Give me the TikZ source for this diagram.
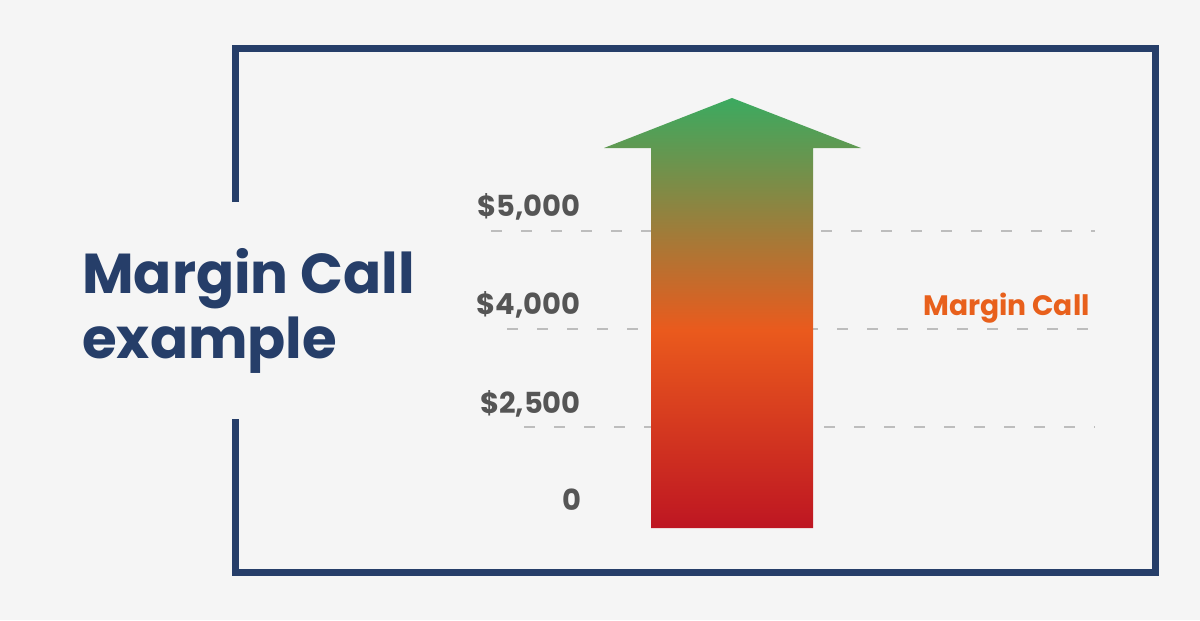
\documentclass[tikz,border=0pt]{standalone}
\usepackage{fontspec}
\setmainfont{Poppins}
\usepackage{tikz}
\usetikzlibrary{arrows.meta}
\definecolor{navy}{HTML}{263E69}
\definecolor{bggray}{HTML}{F5F5F5}
\definecolor{txtgray}{HTML}{555555}
\definecolor{dashgray}{HTML}{BDBDBD}
\definecolor{callorange}{HTML}{E8601C}
\definecolor{upgreen}{HTML}{3BAA60}
\definecolor{midorange}{HTML}{EA5A1D}
\definecolor{lowred}{HTML}{BE1622}
\pgfdeclareverticalshading{riseshade}{100bp}{color(0bp)=(lowred); color(25bp)=(lowred); color(48bp)=(midorange); color(75bp)=(upgreen); color(100bp)=(upgreen)}
\tikzset{
  every picture/.style={line join=miter},
  frameline/.style={navy, line width=0.14cm},
  level/.style={dashgray, line width=0.04cm, dash pattern=on 0.22cm off 0.38cm},
  amount/.style={txtgray, font=\fontsize{16.5}{19}\selectfont\bfseries, anchor=base east, inner sep=0pt},
  headline/.style={navy, font=\fontsize{32}{36}\selectfont\bfseries, anchor=base west, inner sep=0pt},
}

\begin{document}
\begin{tikzpicture}
\fill[bggray] (0,0) rectangle (24,12.4);
\useasboundingbox (0,0) rectangle (24,12.4);
\draw[frameline] (4.706,8.36) -- (4.706,11.43) -- (23.11,11.43) -- (23.11,0.95) -- (4.706,0.95) -- (4.706,4.02);
\node[headline] (title1) at (1.64,6.54) {Margin Call};
\node[headline] (title2) at (1.64,5.24) {example};
\draw[level] (9.82,7.78) -- (21.9,7.78);
\draw[level] (10.14,5.82) -- (21.9,5.82);
\draw[level] (10.48,3.86) -- (21.9,3.86);
\shade[shading=riseshade] (13.02,1.84) -- (13.02,9.44) -- (12.08,9.44) -- (14.64,10.44) -- (17.22,9.44) -- (16.26,9.44) -- (16.26,1.84) -- cycle;
\node[amount] (v5000) at (11.62,8.08) {\$5,000};
\node[amount] (v4000) at (11.62,6.12) {\$4,000};
\node[amount] (v2500) at (11.62,4.14) {\$2,500};
\node[amount] (v0) at (11.64,2.2) {0};
\node[amount, callorange, font=\fontsize{16}{19}\selectfont\bfseries] (call) at (21.8,6.1) {Margin Call};
\end{tikzpicture}
\end{document}
